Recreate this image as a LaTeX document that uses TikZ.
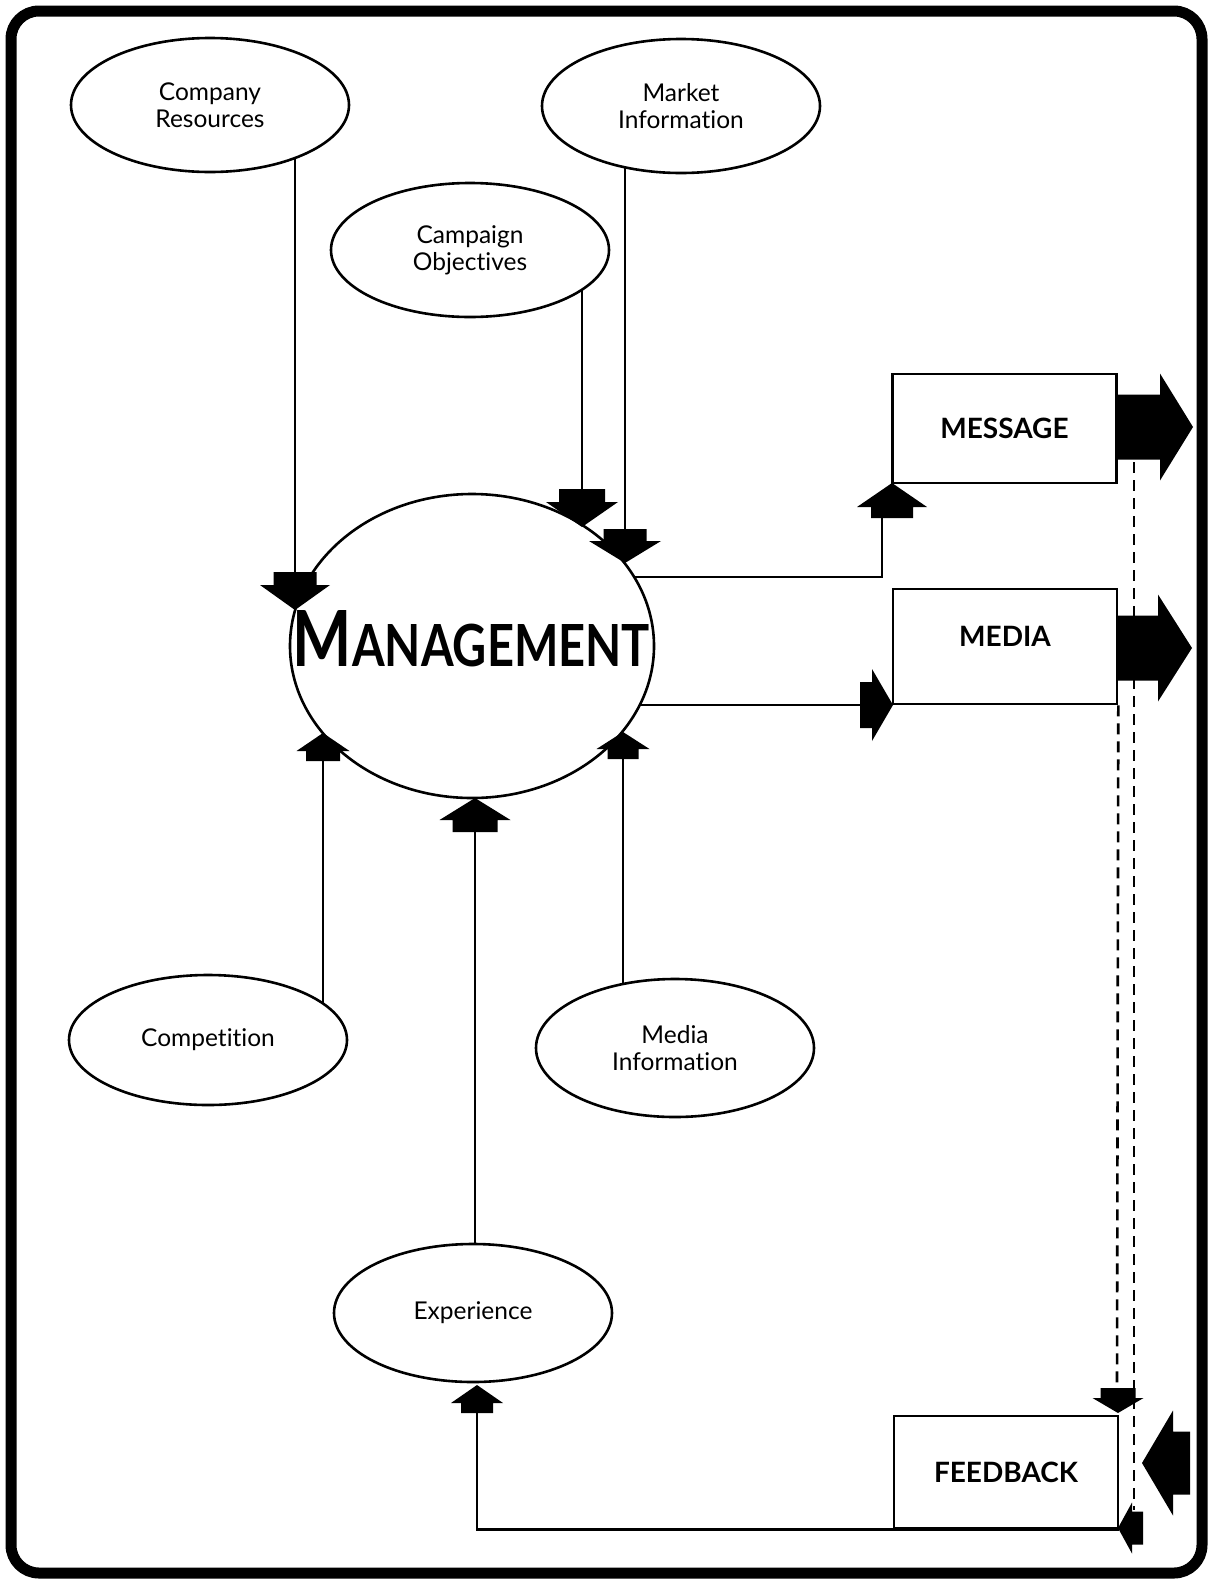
\documentclass[tikz,border=0pt]{standalone}
\usepackage{fontspec}
\setmainfont{Lato}[Ligatures=NoCommon]
\usetikzlibrary{shapes.geometric}
\pgfdeclarelayer{bg}
\pgfsetlayers{bg,main}
\begin{document}
\begin{tikzpicture}[x=1pt,y=-1pt,
  oval/.style={ellipse, draw, line width=2.6pt, fill=white, inner sep=0pt,
    minimum width=278pt, minimum height=134pt, align=center,
    font=\fontsize{24.5}{27}\selectfont},
  rbox/.style={draw, line width=2.6pt, fill=white, inner sep=0pt,
    minimum width=224pt, font=\fontsize{28}{28}\selectfont\bfseries},
  conn/.style={line width=2.6pt},
  dsh/.style={line width=2.6pt, dash pattern=on 11pt off 7pt},
  pics/fatarr/.style args={#1/#2/#3/#4}{code={
    \fill[black] (0,0) -- (-#1,#2/2) -- (-#1,#3/2) -- (-#1-#4,#3/2)
      -- (-#1-#4,-#3/2) -- (-#1,-#3/2) -- (-#1,-#2/2) -- cycle;}}
]
\useasboundingbox (0,0) rectangle (1214,1583);
% frame
\draw[line width=11pt, rounded corners=28pt] (11,11) rectangle (1202,1573);

% ellipses
\node[oval] (cr) at (210,105) {Company\\Resources};
\node[oval] (mi) at (681,106) {Market\\Information};
\node[oval] (co) at (470,250) {Campaign\\Objectives};
\node[oval, minimum height=130pt] (cp) at (208,1040) {Competition};
\node[oval, minimum height=138pt] (md) at (675,1048) {Media\\Information};
\node[oval, minimum height=138pt] (ex) at (473,1313) {Experience};
\node[ellipse, draw, line width=2.6pt, fill=white, inner sep=0pt,
  minimum width=364pt, minimum height=304pt] (mg) at (472,646) {};
\node[inner sep=0pt] (mgt) at (471.5,639) {\resizebox{357pt}{56pt}{\bfseries
  {\fontsize{78}{78}\selectfont M}{\fontsize{58.5}{58}\selectfont ANAGEMENT}}};

% boxes
\node[rbox, minimum height=109pt] (msg) at (1004.5,428.5) {MESSAGE};
\node[rbox, minimum height=115pt, text depth=20pt] (med) at (1005,646.5) {MEDIA};
\node[rbox, minimum height=112pt] (fb) at (1006,1472) {FEEDBACK};

% arrow tails
\coordinate (a1t) at (295,572);
\coordinate (a2t) at (582,489);
\coordinate (a3t) at (625,529);
\coordinate (a4t) at (323,761);
\coordinate (a5t) at (475,832);
\coordinate (a6t) at (623,757);
\coordinate (a7t) at (477,1412);
\coordinate (a8t) at (892,518);
\coordinate (j1) at (882,577);
\coordinate (a9t) at (860,705);
\coordinate (d1s) at (1134,462);
\coordinate (d1e) at (1134,1510);
\coordinate (d2e) at (1117,1390);

% connectors
\begin{pgfonlayer}{bg}
\draw[conn] (cr.center -| a1t) -- (a1t);
\draw[conn] (co.center -| a2t) -- (a2t);
\draw[conn] (mi.center -| a3t) -- (a3t);
\draw[conn] (cp.center -| a4t) -- (a4t);
\draw[conn] (ex.center -| a5t) -- (a5t);
\draw[conn] (md.center -| a6t) -- (a6t);
\draw[conn] (mg.center |- j1) -- (j1) -- (j1 |- a8t);
\draw[conn] (mg.center |- a9t) -- (a9t);
\draw[conn] (fb.south east) -- (a7t |- fb.south) -- (a7t);
\draw[dsh] (d1s) -- (d1e);
\draw[dsh] (med.south east) -- (d2e);
\end{pgfonlayer}

% fat arrows
\pic[rotate=-90] at (295,610) {fatarr=25/70/43/13};
\pic[rotate=-90] at (582,527) {fatarr=25/72/46/13};
\pic[rotate=-90] at (625,563) {fatarr=22/72/43/12};
\pic[rotate=90] at (323,733) {fatarr=18/53/34/10};
\pic[rotate=90] at (475,798) {fatarr=22/71/45/12};
\pic[rotate=90] at (623,732) {fatarr=17/53/31/10};
\pic[rotate=90] at (477,1385) {fatarr=18/52/32/10};
\pic[rotate=90] at (892,483) {fatarr=24/70/42/11};
\pic at (893,705) {fatarr=21/72/46/12};
\pic at (1193,427) {fatarr=33/107/65/44};
\pic at (1192,648) {fatarr=34/107/65/42};
\pic[rotate=-90] at (1118,1413) {fatarr=15/51/35/10};
\pic[rotate=180] at (1118,1528) {fatarr=14/51/33/11};
\pic[rotate=180] at (1142,1463) {fatarr=31/105/63/17};
\end{tikzpicture}
\end{document}
